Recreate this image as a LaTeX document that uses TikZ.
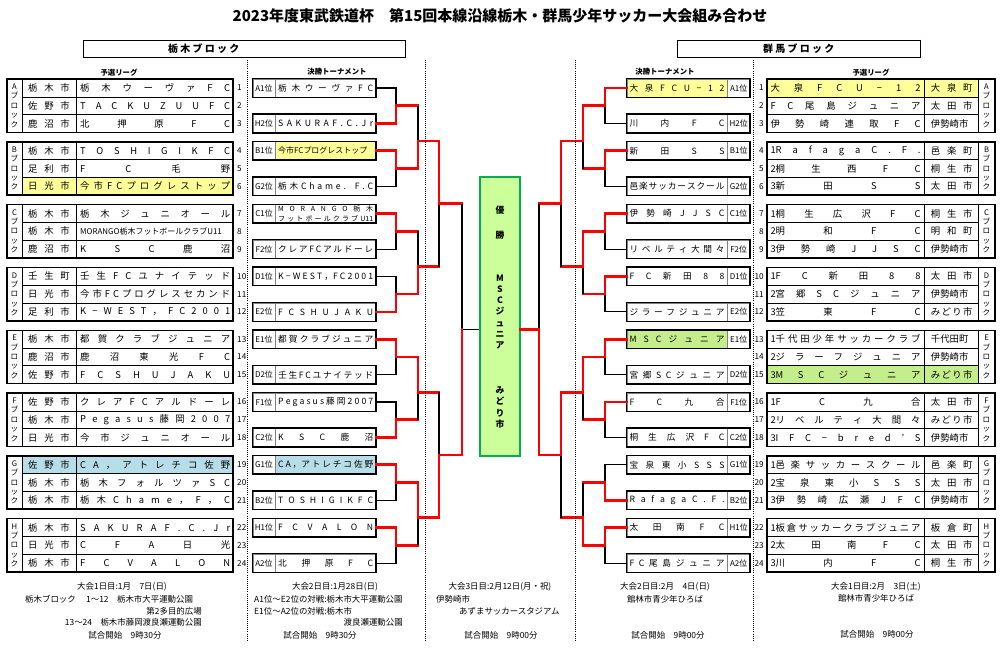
\documentclass[tikz,border=0pt]{standalone}
\usepackage{fontspec}
\setmainfont{Noto Sans CJK JP}
\usetikzlibrary{positioning}

\definecolor{hlyellow}{RGB}{255,255,153}
\definecolor{hlblue}{RGB}{183,222,232}
\definecolor{hlgreen}{RGB}{196,238,140}
\definecolor{champgreen}{RGB}{204,255,153}
\definecolor{champframe}{RGB}{0,176,80}
\definecolor{winred}{RGB}{255,0,0}

\newcommand\cellfont{\fontsize{8}{9}\selectfont\spaceskip=0pt plus 1fil\relax}
\newcommand\seedfont{\fontsize{7.4}{8.5}\selectfont\spaceskip=0pt plus 1fil\relax}
\newcommand\tight[1]{{\fontsize{6.8}{8}\selectfont #1}}
\newcommand\morango{{\fontsize{6}{6.5}\selectfont\shortstack{\makebox[2.85cm][s]{M O R A N G O 栃 木}\\\makebox[2.85cm][s]{フ ッ ト ボ ー ル ク ラ ブ U11}}}}

\begin{document}
\begin{tikzpicture}[x=0.03cm, y=-0.03cm, node distance=0pt]
\tikzstyle{city_cell}=[draw, line width=0.6pt, inner sep=0pt, minimum width=1.62cm, minimum height=0.5325cm, font=\cellfont]
\tikzstyle{team_cell}=[draw, line width=0.6pt, inner sep=0pt, minimum width=4.71cm, minimum height=0.5325cm, font=\cellfont]
\tikzstyle{row_num}=[inner sep=0pt, font=\fontsize{7}{8}\selectfont]
\tikzstyle{blk_lab}=[inner sep=0pt, align=center, font=\fontsize{6.5}{8}\selectfont]
\tikzstyle{block_box}=[line width=1.3pt]
\tikzstyle{seed_lab}=[draw=gray, line width=0.6pt, inner sep=0pt, minimum width=0.66cm, minimum height=0.54cm, font=\fontsize{6.8}{8}\selectfont]
\tikzstyle{seed_name}=[draw=gray, line width=0.6pt, inner sep=0pt, minimum width=3cm, minimum height=0.54cm, font=\seedfont]
\tikzstyle{seed_frame}=[line width=1.2pt]
\tikzstyle{lose_path}=[line width=0.9pt]
\tikzstyle{win_path}=[winred, line width=2.3pt, line cap=rect]
\tikzstyle{final_box}=[draw=champframe, fill=champgreen, line width=1pt, minimum width=1.2cm, minimum height=8.37cm]
\tikzstyle{final_txt}=[inner sep=0pt, align=center, font=\fontsize{7.5}{9.6}\selectfont\bfseries]
\tikzstyle{head_box}=[draw, line width=0.8pt, minimum height=0.51cm, inner sep=0pt]
\tikzstyle{head_txt}=[inner sep=0pt, anchor=west, font=\fontsize{8.5}{10}\selectfont\bfseries]
\tikzstyle{sub_head}=[inner sep=0pt, font=\fontsize{6.3}{8}\selectfont\bfseries]
\tikzstyle{note}=[inner sep=0pt, font=\fontsize{7.2}{8}\selectfont]
\tikzstyle{sep_line}=[densely dotted, line width=0.8pt]
%
\useasboundingbox (0,0) rectangle (1000,653);
\fill[white] (0,0) rectangle (1000,653);

\node[font=\fontsize{12.8}{14}\selectfont\bfseries] (title) at (500,16) {2023年度東武鉄道杯　第15回本線沿線栃木・群馬少年サッカー大会組み合わせ};

% block headers
\node[head_box, minimum width=9.66cm] (tochigi_box) at (244,48.5) {};
\node[head_txt] (tochigi_head) at (168,48.5) {栃 木 ブ ロ ッ ク};
\node[head_box, minimum width=7.29cm] (gunma_box) at (798.5,48.5) {};
\node[head_txt] (gunma_head) at (763,48.5) {群 馬 ブ ロ ッ ク};
\draw[line width=1.6pt] (tochigi_box.north east) -- (tochigi_box.south east) -- (tochigi_box.south west);
\draw[line width=1.6pt] (gunma_box.north east) -- (gunma_box.south east) -- (gunma_box.south west);

\node[sub_head] (lleague_head) at (119,73) {予選リーグ};
\node[sub_head] (lcup_head) at (337,72) {決勝トーナメント};
\node[sub_head] (rcup_head) at (665,72) {決勝トーナメント};
\node[sub_head] (rleague_head) at (871,73) {予選リーグ};

% Tochigi league
\foreach \city/\team/\col [count=\n] in {栃 木 市/栃 木 ウ ー ヴ ァ F C/white,
  佐 野 市/T A C K U Z U U F C/white,
  鹿 沼 市/北 押 原 F C/white,
  栃 木 市/T O S H I G I K F C/white,
  足 利 市/F C 毛 野/white,
  日 光 市/今 市 F C プ ロ グ レ ス ト ッ プ/hlyellow,
  栃 木 市/栃 木 ジ ュ ニ オ ー ル/white,
  栃 木 市/\tight{MORANGO栃木フットボールクラブU11}/white,
  鹿 沼 市/K S C 鹿 沼/white,
  壬 生 町/壬 生 F C ユ ナ イ テ ッ ド/white,
  日 光 市/今 市 F C プ ロ グ レ ス セ カ ン ド/white,
  足 利 市/K − W E S T ， F C 2 0 0 1/white,
  栃 木 市/都 賀 ク ラ ブ ジ ュ ニ ア/white,
  鹿 沼 市/鹿 沼 東 光 F C/white,
  佐 野 市/F C S H U J A K U/white,
  佐 野 市/ク レ ア F C ア ル ド ー レ/white,
  栃 木 市/P e g a s u s 藤 岡 2 0 0 7/white,
  日 光 市/今 市 ジ ュ ニ オ ー ル/white,
  佐 野 市/C A ， ア ト レ チ コ 佐 野/hlblue,
  栃 木 市/栃 木 フ ォ ル ツ ァ S C/white,
  栃 木 市/栃 木 C h a m e ， F ， C/white,
  栃 木 市/S A K U R A F . C . J r/white,
  日 光 市/C F A 日 光/white,
  栃 木 市/F C V A L O N/white}{
  \pgfmathsetmacro\yy{88+62.8*int((\n-1)/3)+17.75*mod(\n-1,3)}
  \node[city_cell, fill=\col] (lcity\n) at (49,\yy) {\makebox[1.25cm][s]{\city}};
  \node[team_cell, fill=\col, right=0pt of lcity\n] (lteam\n) {\makebox[4.5cm][s]{\team}};
  \node[row_num, anchor=west] (lnum\n) at (237,\yy) {\n};
}

% Gunma league
\foreach \team/\city/\col [count=\n] in {大 泉 F C U − 1 2/大 泉 町/hlyellow,
  F C 尾 島 ジ ュ ニ ア/太 田 市/white,
  伊 勢 崎 連 取 F C/伊勢崎市/white,
  1R a f a g a C . F ./邑 楽 町/white,
  2桐 生 西 F C/桐 生 市/white,
  3新 田 S S/太 田 市/white,
  1桐 生 広 沢 F C/桐 生 市/white,
  2明 和 F C/明 和 町/white,
  3伊 勢 崎 J J S C/伊勢崎市/white,
  1F C 新 田 8 8/太 田 市/white,
  2宮 郷 S C ジ ュ ニ ア/伊勢崎市/white,
  3笠 東 F C/み ど り 市/white,
  1千 代 田 少 年 サ ッ カ ー ク ラ ブ/千代田町/white,
  2ジ ラ ー フ ジ ュ ニ ア/伊勢崎市/white,
  3M S C ジ ュ ニ ア/み ど り 市/hlgreen,
  1F C 九 合/太 田 市/white,
  2リ ベ ル テ ィ 大 間 々/み ど り 市/white,
  3I F C − b r e d ' S/伊勢崎市/white,
  1邑 楽 サ ッ カ ー ス ク ー ル/邑 楽 町/white,
  2宝 泉 東 小 S S S/太 田 市/white,
  3伊 勢 崎 広 瀬 J F C/伊勢崎市/white,
  1板 倉 サ ッ カ ー ク ラ ブ ジ ュ ニ ア/板 倉 町/white,
  2太 田 南 F C/太 田 市/white,
  3川 内 F C/桐 生 市/white}{
  \pgfmathsetmacro\yy{88+62.8*int((\n-1)/3)+17.75*mod(\n-1,3)}
  \node[team_cell, fill=\col] (rteam\n) at (845.5,\yy) {\makebox[4.5cm][s]{\team}};
  \node[city_cell, fill=\col, right=0pt of rteam\n] (rcity\n) {\makebox[1.25cm][s]{\city}};
  \node[row_num, anchor=east] (rnum\n) at (764,\yy) {\n};
}

\foreach \b [count=\k from 0] in {A,B,C,D,E,F,G,H}{
  \pgfmathsetmacro\yt{79.125+62.8*\k}
  \node[blk_lab] (lblk\b) at (14.5,\yt+26.6) {\b\\ブ\\ロ\\ッ\\ク};
  \node[blk_lab] (rblk\b) at (986.5,\yt+26.6) {\b\\ブ\\ロ\\ッ\\ク};
  \draw[block_box] (7,\yt) rectangle (233,\yt+53.25);
  \draw[block_box] (767,\yt) rectangle (995,\yt+53.25);
}

% Tochigi tournament
\foreach \seed/\team/\col [count=\i] in {A1位/栃 木 ウ ー ヴ ァ F C/white,
  H2位/S A K U R A F . C . J r/white,
  B1位/\tight{今市FCプログレストップ}/hlyellow,
  G2位/栃 木 C h a m e . F . C/white,
  C1位/\morango/white,
  F2位/ク レ ア F C ア ル ド ー レ/white,
  D1位/K − W E S T ，F C 2 0 0 1/white,
  E2位/F C S H U J A K U/white,
  E1位/都 賀 ク ラ ブ ジ ュ ニ ア/white,
  D2位/壬 生 F C ユ ナ イ テ ッ ド/white,
  F1位/P e g a s u s 藤 岡 2 0 0 7/white,
  C2位/K S C 鹿 沼/white,
  G1位/C A ，ア ト レ チ コ 佐 野/hlblue,
  B2位/T O S H I G I K F C/white,
  H1位/F C V A L O N/white,
  A2位/北 押 原 F C/white}{
  \pgfmathsetmacro\yy{88+62.8*int((\i-1)/2)+35.5*mod(\i-1,2)}
  \node[seed_lab] (tlab\i) at (264,\yy) {\seed};
  \node[seed_name, fill=\col, right=0pt of tlab\i] (tl\i) {\makebox[2.85cm][s]{\team}};
  \draw[seed_frame] (tlab\i.north west) rectangle (tl\i.south east);
}

% Gunma tournament
\foreach \seed/\team/\col [count=\i] in {A1位/大 泉 F C U − 1 2/hlyellow,
  H2位/川 内 F C/white,
  B1位/新 田 S S/white,
  G2位/邑 楽 サ ッ カ ー ス ク ー ル/white,
  C1位/伊 勢 崎 J J S C/white,
  F2位/リ ベ ル テ ィ 大 間 々/white,
  D1位/F C 新 田 8 8/white,
  E2位/ジ ラ ー フ ジ ュ ニ ア/white,
  E1位/M S C ジ ュ ニ ア/hlgreen,
  D2位/宮 郷 S C ジ ュ ニ ア/white,
  F1位/F C 九 合/white,
  C2位/桐 生 広 沢 F C/white,
  G1位/宝 泉 東 小 S S S/white,
  B2位/R a f a g a C . F ./white,
  H1位/太 田 南 F C/white,
  A2位/F C 尾 島 ジ ュ ニ ア/white}{
  \pgfmathsetmacro\yy{88+62.8*int((\i-1)/2)+35.5*mod(\i-1,2)}
  \node[seed_name, fill=\col] (tr\i) at (677,\yy) {\makebox[2.85cm][s]{\team}};
  \node[seed_lab, right=0pt of tr\i] (trlab\i) {\seed};
  \draw[seed_frame] (tr\i.north west) rectangle (trlab\i.south east);
}

% final
\node[final_box] (final) at (500,316.5) {};
\node[final_txt] (champ_yu) at (500,210) {優};
\node[final_txt] (champ_sho) at (500,235) {勝};
\node[final_txt] (champ_team) at (500,312) {M\\S\\C\\ジ\\ュ\\ニ\\ア};
\node[final_txt] (champ_town) at (500,407.5) {み\\ど\\り\\市};

% bracket joins
\foreach \p in {0,...,7}{
  \coordinate (La\p) at (396,105.75+62.8*\p);
  \coordinate (Ra\p) at (605,105.75+62.8*\p);
}
\foreach \m in {0,...,3}{
  \coordinate (Lb\m) at (418,141+125.6*\m);
  \coordinate (Rb\m) at (583,141+125.6*\m);
}
\coordinate (Lc0) at (439,203.8);
\coordinate (Lc1) at (439,455);
\coordinate (Rc0) at (561,203.8);
\coordinate (Rc1) at (561,455);
\coordinate (Ld) at (462,329.4);
\coordinate (Rd) at (539,329.4);

% Tochigi results
\foreach \p/\w in {0/1,1/0,2/0,3/1,4/0,5/1,6/0,7/0}{
  \pgfmathtruncatemacro\winid{2*\p+\w+1}
  \pgfmathtruncatemacro\losid{2*\p+2-\w}
  \draw[lose_path] (tl\losid.east) -| (La\p);
  \draw[win_path] (tl\winid.east) -| (La\p) -- (La\p -| Lb0);
}
\foreach \m/\w in {0/1,1/1,2/0,3/0}{
  \pgfmathtruncatemacro\winid{2*\m+\w}
  \pgfmathtruncatemacro\losid{2*\m+1-\w}
  \draw[lose_path] (La\losid -| Lb\m) -- (Lb\m);
  \draw[win_path] (La\winid -| Lb\m) -- (Lb\m) -- (Lb\m -| Lc0);
}
\foreach \s/\w in {0/0,1/1}{
  \pgfmathtruncatemacro\winid{2*\s+\w}
  \pgfmathtruncatemacro\losid{2*\s+1-\w}
  \draw[lose_path] (Lb\losid -| Lc\s) -- (Lc\s);
  \draw[win_path] (Lb\winid -| Lc\s) -- (Lc\s) -- (Lc\s -| Ld);
}
\draw[lose_path] (Lc0 -| Ld) -- (Ld) -- (Ld -| final.west);
\draw[win_path] (Lc1 -| Ld) -- (Ld);

% Gunma results
\foreach \p/\w in {0/0,1/0,2/0,3/0,4/0,5/0,6/1,7/0}{
  \pgfmathtruncatemacro\winid{2*\p+\w+1}
  \pgfmathtruncatemacro\losid{2*\p+2-\w}
  \draw[lose_path] (tr\losid.west) -| (Ra\p);
  \draw[win_path] (tr\winid.west) -| (Ra\p) -- (Ra\p -| Rb0);
}
\foreach \m/\w in {0/0,1/0,2/0,3/1}{
  \pgfmathtruncatemacro\winid{2*\m+\w}
  \pgfmathtruncatemacro\losid{2*\m+1-\w}
  \draw[lose_path] (Ra\losid -| Rb\m) -- (Rb\m);
  \draw[win_path] (Ra\winid -| Rb\m) -- (Rb\m) -- (Rb\m -| Rc0);
}
\foreach \s/\w in {0/0,1/0}{
  \pgfmathtruncatemacro\winid{2*\s+\w}
  \pgfmathtruncatemacro\losid{2*\s+1-\w}
  \draw[lose_path] (Rb\losid -| Rc\s) -- (Rc\s);
  \draw[win_path] (Rb\winid -| Rc\s) -- (Rc\s) -- (Rc\s -| Rd);
}
\draw[lose_path] (Rc0 -| Rd) -- (Rd);
\draw[win_path] (Rc1 -| Rd) -- (Rd) -- (Rd -| final.east);

\foreach \xx in {247,425,575,753}
  \draw[sep_line] (\xx,60) -- (\xx,640);

% schedule notes
\node[note] (day1l) at (122,587) {大会1日目:1月　7日(日)};
\node[note, anchor=west] (venue1l) at (25,599) {栃木ブロック　 1〜12　栃木市大平運動公園};
\node[note, anchor=east] (venue1m) at (202,611) {第2多目的広場};
\node[note, anchor=east] (venue1n) at (202,622) {13〜24　栃木市藤岡渡良瀬運動公園};
\node[note] (start1l) at (125,635) {試合開始　9時30分};

\node[note] (day2l) at (335,587) {大会2日目:1月28日(日)};
\node[note, anchor=west] (match_a) at (254,599) {A1位〜E2位の対戦:栃木市大平運動公園};
\node[note, anchor=west] (match_b) at (254,611) {E1位〜A2位の対戦:栃木市};
\node[note, anchor=east] (match_b2) at (403,622) {渡良瀬運動公園};
\node[note] (start2l) at (320,635) {試合開始　9時30分};

\node[note] (day3) at (500,587) {大会3日目:2月12日(月・祝)};
\node[note, anchor=west] (city3) at (436,599) {伊勢崎市};
\node[note, anchor=west] (venue3) at (459,611) {あずまサッカースタジアム};
\node[note] (start3) at (501,635) {試合開始　9時00分};

\node[note] (day2r) at (665,587) {大会2日目:2月　4日(日)};
\node[note] (venue2r) at (665,599) {館林市青少年ひろば};
\node[note] (start2r) at (668,635) {試合開始　9時00分};

\node[note] (day1r) at (876,587) {大会1日目:2月　3日(土)};
\node[note] (venue1r) at (876,598) {館林市青少年ひろば};
\node[note] (start1r) at (877,634) {試合開始　9時00分};
\end{tikzpicture}
\end{document}
